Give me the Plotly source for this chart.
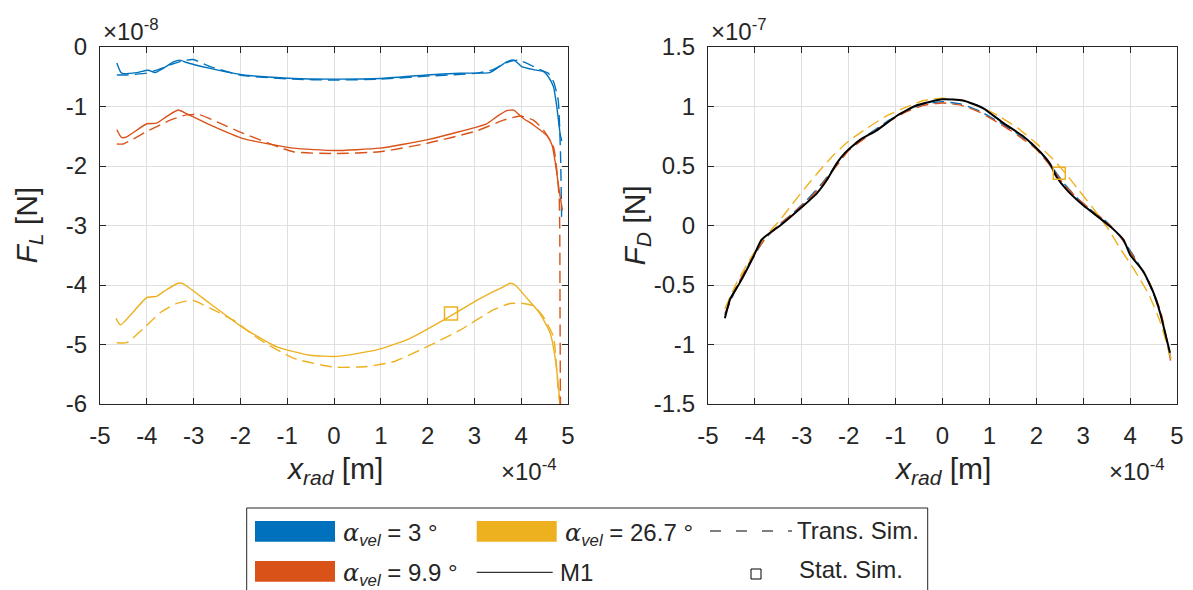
import plotly.graph_objects as go

W, H = 1193, 590
FONT = "Liberation Sans, Arial, Helvetica, sans-serif"
BLUE, ORANGE, YELLOW = "#0072BD", "#D95319", "#EDB120"

# ---------------- Left plot: F_L (x in 1e-4 m, y in 1e-8 N) ----------------
l_blue_m1_x = [-4.64, -4.54, -4.22, -3.97, -3.82, -3.65, -3.43, -3.29, -3.15, -2.65, -1.94, -0.87, 0.0,
               0.98, 1.98, 2.69, 3.33, 3.48, 3.69, 3.85, 4.01, 4.26, 4.47, 4.58, 4.69, 4.76, 4.83, 4.865]
l_blue_m1_y = [-0.27, -0.44, -0.43, -0.39, -0.43, -0.36, -0.25, -0.22, -0.26, -0.36, -0.47, -0.53, -0.54,
               -0.53, -0.47, -0.44, -0.43, -0.36, -0.25, -0.22, -0.33, -0.38, -0.41, -0.50, -0.67, -1.00, -1.45, -1.58]
l_blue_tr_x = [-4.64, -4.43, -4.0, -3.79, -3.50, -3.22, -3.01, -2.65, -1.94, -0.87, 0.0, 0.98, 1.98,
               3.05, 3.40, 3.69, 3.94, 4.19, 4.40, 4.58, 4.69, 4.79, 4.84, 4.865]
l_blue_tr_y = [-0.47, -0.47, -0.44, -0.39, -0.30, -0.23, -0.21, -0.33, -0.48, -0.54, -0.555, -0.54, -0.49,
               -0.44, -0.38, -0.26, -0.22, -0.30, -0.38, -0.44, -0.58, -0.89, -1.80, -2.95]
l_orange_m1_x = [-4.64, -4.54, -4.43, -4.0, -3.79, -3.58, -3.33, -3.15, -2.65, -1.94, -0.87, 0.0, 0.98,
                 1.98, 2.69, 3.26, 3.48, 3.69, 3.84, 4.01, 4.26, 4.55, 4.66, 4.73, 4.81, 4.88]
l_orange_m1_y = [-1.39, -1.52, -1.51, -1.29, -1.28, -1.17, -1.06, -1.12, -1.31, -1.54, -1.70, -1.74, -1.70,
                 -1.56, -1.42, -1.29, -1.17, -1.07, -1.06, -1.18, -1.31, -1.49, -1.65, -1.95, -2.40, -2.75]
l_orange_tr_x = [-4.64, -4.50, -4.0, -3.50, -3.15, -2.86, -2.44, -1.94, -0.87, 0.0, 0.98, 1.98, 3.05,
                 3.62, 3.98, 4.26, 4.47, 4.69, 4.81, 4.83, 4.84]
l_orange_tr_y = [-1.63, -1.63, -1.42, -1.23, -1.14, -1.14, -1.28, -1.45, -1.76, -1.79, -1.76, -1.62, -1.41,
                 -1.23, -1.16, -1.23, -1.39, -1.68, -2.52, -4.5, -6.5]
l_yellow_m1_x = [-4.66, -4.56, -4.0, -3.79, -3.58, -3.33, -3.22, -2.65, -1.94, -1.22, -0.51, 0.06, 0.91,
                 1.62, 2.34, 3.05, 3.33, 3.62, 3.76, 3.87, 4.12, 4.40, 4.62, 4.72, 4.83, 4.86]
l_yellow_m1_y = [-4.56, -4.67, -4.21, -4.19, -4.08, -3.97, -3.98, -4.31, -4.72, -5.04, -5.18, -5.20, -5.09,
                 -4.90, -4.59, -4.26, -4.14, -4.03, -3.97, -4.00, -4.22, -4.48, -4.81, -5.20, -5.99, -6.3]
l_yellow_tr_x = [-4.64, -4.43, -4.07, -3.72, -3.36, -3.01, -2.65, -2.15, -1.58, -0.87, 0.0, 0.70, 1.27,
                 1.98, 2.69, 3.40, 3.76, 4.05, 4.26, 4.47, 4.69, 4.79, 4.83, 4.85]
l_yellow_tr_y = [-4.97, -4.97, -4.73, -4.47, -4.31, -4.26, -4.39, -4.59, -4.92, -5.23, -5.38, -5.37, -5.29,
                 -5.04, -4.76, -4.42, -4.31, -4.31, -4.35, -4.53, -4.87, -5.76, -6.04, -6.5]
l_stat_x = [2.5]
l_stat_y = [-4.48]

# ---------------- Right plot: F_D (x in 1e-4 m, y in 1e-7 N) ----------------
r_m1_x = [-4.64, -4.53, -4.32, -4.03, -3.86, -3.64, -3.46, -3.04, -2.68, -2.47, -2.26, -2.08, -1.76, -1.40,
          -0.98, -0.55, 0.0, 0.44, 0.87, 1.30, 1.72, 2.08, 2.29, 2.43, 2.65, 3.0, 3.36, 3.61, 3.86, 4.0,
          4.28, 4.50, 4.64, 4.85]
r_m1_y = [-0.78, -0.62, -0.48, -0.26, -0.12, -0.05, 0.0, 0.14, 0.27, 0.38, 0.52, 0.61, 0.72, 0.80,
          0.92, 1.01, 1.06, 1.05, 0.985, 0.86, 0.75, 0.62, 0.52, 0.41, 0.30, 0.17, 0.06, -0.02, -0.12, -0.245,
          -0.385, -0.567, -0.735, -1.07]
r_tr_x = [-4.64, -4.4, -4.1, -3.8, -3.5, -3.2, -2.9, -2.6, -2.3, -2.0, -1.6, -1.2, -0.8, -0.4, 0.0,
          0.4, 0.8, 1.2, 1.6, 2.0, 2.3, 2.6, 2.9, 3.2, 3.5, 3.8, 4.1, 4.4, 4.65, 4.87]
r_blue_tr_y = [-0.75, -0.53, -0.31, -0.12, 0.0, 0.10, 0.21, 0.34, 0.49, 0.64, 0.76, 0.87, 0.96, 1.02, 1.04,
               1.02, 0.96, 0.87, 0.77, 0.65, 0.51, 0.35, 0.22, 0.12, 0.03, -0.10, -0.27, -0.48, -0.74, -1.12]
r_orange_tr_y = [-0.74, -0.52, -0.30, -0.12, 0.0, 0.10, 0.20, 0.33, 0.48, 0.63, 0.75, 0.86, 0.95, 1.01, 1.03,
                 1.01, 0.95, 0.86, 0.76, 0.64, 0.50, 0.34, 0.22, 0.12, 0.03, -0.10, -0.28, -0.47, -0.72, -1.15]
r_yellow_tr_y = [-0.70, -0.49, -0.28, -0.10, 0.03, 0.18, 0.33, 0.47, 0.60, 0.71, 0.82, 0.92, 0.99, 1.05, 1.07,
                 1.05, 1.00, 0.92, 0.82, 0.69, 0.58, 0.45, 0.30, 0.15, -0.01, -0.20, -0.38, -0.58, -0.82, -1.12]
r_stat_x = [2.49]
r_stat_y = [0.44]

x_ticks = [-5, -4, -3, -2, -1, 0, 1, 2, 3, 4, 5]
x_ticktext = ["-5", "-4", "-3", "-2", "-1", "0", "1", "2", "3", "4", "5"]
l_yticks = [-6, -5, -4, -3, -2, -1, 0]
l_yticktext = ["-6", "-5", "-4", "-3", "-2", "-1", "0"]
r_yticks = [-1.5, -1, -0.5, 0, 0.5, 1, 1.5]
r_yticktext = ["-1.5", "-1", "-0.5", "0", "0.5", "1", "1.5"]

# ---------------- layout geometry (pixels) ----------------
L_X0, L_X1 = 100, 568
R_X0, R_X1 = 708, 1177
Y_TOP, Y_BOT = 47, 404


def px(x):
    return x / W


def py(y):
    return 1 - y / H


fig = go.Figure()

DASH = "12px,6px"
LW = 1.4
SM = 0.5


def add_line(x, y, color, dash, xa, ya, width=LW):
    fig.add_trace(go.Scatter(x=x, y=y, mode="lines", xaxis=xa, yaxis=ya, showlegend=False,
                             hoverinfo="skip",
                             line=dict(color=color, width=width, dash=dash, shape="spline", smoothing=SM)))


# left
add_line(l_blue_m1_x, l_blue_m1_y, BLUE, "solid", "x", "y")
add_line(l_blue_tr_x, l_blue_tr_y, BLUE, DASH, "x", "y")
add_line(l_orange_m1_x, l_orange_m1_y, ORANGE, "solid", "x", "y")
add_line(l_yellow_m1_x, l_yellow_m1_y, YELLOW, "solid", "x", "y")
add_line(l_yellow_tr_x, l_yellow_tr_y, YELLOW, DASH, "x", "y")
add_line(l_orange_tr_x, l_orange_tr_y, ORANGE, DASH, "x", "y")
fig.add_trace(go.Scatter(x=l_stat_x, y=l_stat_y, mode="markers", xaxis="x", yaxis="y", showlegend=False,
                         marker=dict(symbol="square-open", size=13, color=YELLOW, line=dict(width=1.5))))

# right
add_line(r_tr_x, r_blue_tr_y, BLUE, DASH, "x2", "y2")
add_line(r_tr_x, r_orange_tr_y, ORANGE, DASH, "x2", "y2")
add_line(r_tr_x, r_yellow_tr_y, YELLOW, DASH, "x2", "y2")
add_line(r_m1_x, r_m1_y, "black", "solid", "x2", "y2", width=2)
fig.add_trace(go.Scatter(x=r_stat_x, y=r_stat_y, mode="markers", xaxis="x2", yaxis="y2", showlegend=False,
                         marker=dict(symbol="square-open", size=12, color=YELLOW, line=dict(width=1.5))))

AX_COLOR = "#262626"
GRID = "#dfdfdf"
TICKFONT = dict(family=FONT, size=24, color="#262626")

common_x = dict(range=[-5, 5], tickvals=x_ticks, ticktext=x_ticktext, showgrid=True, gridcolor=GRID,
                gridwidth=1, zeroline=False, showline=True, linecolor=AX_COLOR, linewidth=1, mirror="ticks",
                ticks="inside", ticklen=6, tickcolor=AX_COLOR, tickfont=TICKFONT, ticklabelstandoff=10,
                automargin=False)
common_y = dict(showgrid=True, gridcolor=GRID, gridwidth=1, zeroline=False, showline=True,
                linecolor=AX_COLOR, linewidth=1, mirror="ticks", ticks="inside", ticklen=6,
                tickcolor=AX_COLOR, tickfont=TICKFONT, ticklabelstandoff=7, automargin=False)

fig.update_layout(
    template="none",
    width=W, height=H, margin=dict(l=0, r=0, t=0, b=0, pad=0, autoexpand=False),
    paper_bgcolor="white", plot_bgcolor="white",
    font=dict(family=FONT, color="#262626"),
    xaxis=dict(domain=[px(L_X0), px(L_X1)], anchor="y", **common_x),
    yaxis=dict(domain=[py(Y_BOT), py(Y_TOP)], anchor="x", range=[-6, 0], tickvals=l_yticks,
               ticktext=l_yticktext, **common_y),
    xaxis2=dict(domain=[px(R_X0), px(R_X1)], anchor="y2", **common_x),
    yaxis2=dict(domain=[py(Y_BOT), py(Y_TOP)], anchor="x2", range=[-1.5, 1.5], tickvals=r_yticks,
                ticktext=r_yticktext, **common_y),
)

ann = []
shapes = []


def text(x, y, s, size=24, xanchor="left", yanchor="middle", angle=0):
    ann.append(dict(x=px(x), y=py(y), xref="paper", yref="paper", text=s, showarrow=False,
                    xanchor=xanchor, yanchor=yanchor, textangle=angle,
                    font=dict(family=FONT, size=size, color="#262626")))


# exponent labels
text(101, 30, "×10<sup>-8</sup>")
text(709, 30, "×10<sup>-7</sup>")
text(499, 470, "×10<sup>-4</sup>")
text(1107, 470, "×10<sup>-4</sup>")

# axis labels
text((L_X0 + L_X1) / 2, 470, "<i>x</i><sub><i>rad</i></sub> [m]", size=30, xanchor="center")
text((R_X0 + R_X1) / 2, 470, "<i>x</i><sub><i>rad</i></sub> [m]", size=30, xanchor="center")
text(28, (Y_TOP + Y_BOT) / 2, "<i>F</i><sub><i>L</i></sub> [N]", size=30, xanchor="center", angle=-90)
text(636, (Y_TOP + Y_BOT) / 2, "<i>F</i><sub><i>D</i></sub> [N]", size=30, xanchor="center", angle=-90)

# legend box
shapes.append(dict(type="rect", xref="paper", yref="paper", x0=px(246.7), x1=px(927.7), y0=py(600),
                   y1=py(508), line=dict(color=AX_COLOR, width=1), fillcolor="white", layer="above"))
ALPHA = "<span style='font-family:DejaVu Serif'><i>α</i></span><sub><i>vel</i></sub>"
legend_patches = [(255, 521, BLUE, ALPHA + " = 3 °"), (255, 561, ORANGE, ALPHA + " = 9.9 °"),
                  (476.7, 521, YELLOW, ALPHA + " = 26.7 °")]
for x0, y0, c, label in legend_patches:
    shapes.append(dict(type="rect", xref="paper", yref="paper", x0=px(x0), x1=px(x0 + 80), y0=py(y0 + 20.7),
                       y1=py(y0), line=dict(width=0), fillcolor=c, layer="above"))
    text(x0 + 86, y0 + 13, label)
shapes.append(dict(type="line", xref="paper", yref="paper", x0=px(710), x1=px(792), y0=py(531), y1=py(531),
                   line=dict(color="black", width=1, dash="11px,15px"), layer="above"))
text(795, 530, "Trans. Sim.")
shapes.append(dict(type="line", xref="paper", yref="paper", x0=px(476.7), x1=px(552.7), y0=py(572.3),
                   y1=py(572.3), line=dict(color="black", width=1), layer="above"))
text(558, 572, "M1")
shapes.append(dict(type="rect", xref="paper", yref="paper", x0=px(751), x1=px(761), y0=py(579), y1=py(569),
                   line=dict(color="black", width=1), fillcolor="rgba(0,0,0,0)", layer="above"))
text(796.7, 569, "Stat. Sim.")

fig.update_layout(annotations=ann, shapes=shapes)
fig.write_html("out.html")
